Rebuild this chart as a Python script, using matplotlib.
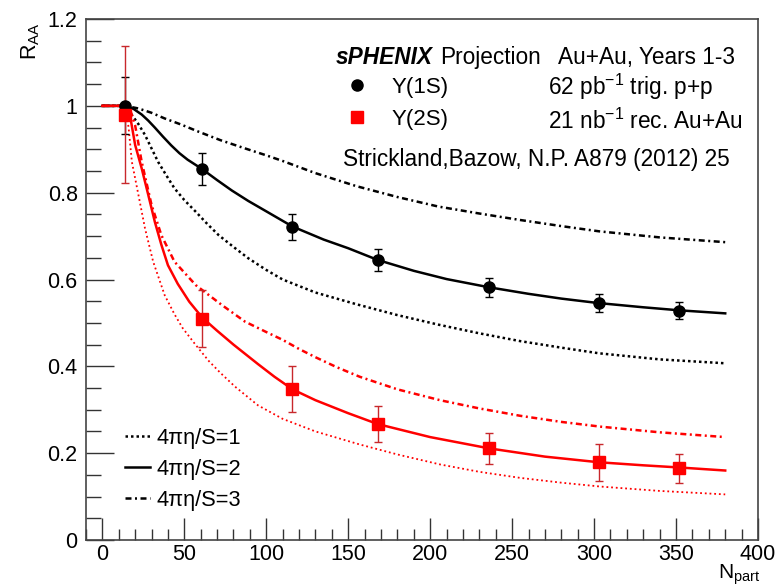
import numpy as np
import matplotlib
matplotlib.use('Agg')
import matplotlib.pyplot as plt
from matplotlib.lines import Line2D
from matplotlib.ticker import MultipleLocator

plt.rcParams['font.family'] = ['Liberation Sans', 'DejaVu Sans']
plt.rcParams['mathtext.default'] = 'regular'

# --- projected points --- #
npart = [14, 61, 116, 168, 236, 303, 352]

raa_1s = [1.0, 0.854, 0.722, 0.645, 0.582, 0.545, 0.528]
err_1s = [0.066, 0.037, 0.030, 0.026, 0.022, 0.021, 0.020]

raa_2s = [0.98, 0.51, 0.347, 0.267, 0.211, 0.179, 0.165]
err_2s = [0.158, 0.065, 0.053, 0.041, 0.035, 0.043, 0.033]

# --- Strickland/Bazow curves --- #
# Y(1S)
x_1s_eta1 = [0, 14, 18, 22, 26, 30, 34, 39, 44, 50, 57, 64, 71, 80, 89, 100, 110, 130,
             155, 180, 205, 230, 255, 280, 303, 340, 380]
y_1s_eta1 = [1.0, 1.0, 0.979, 0.958, 0.933, 0.902, 0.871, 0.84, 0.81, 0.783, 0.756,
             0.728, 0.702, 0.675, 0.649, 0.622, 0.60, 0.57, 0.543, 0.518, 0.496, 0.476,
             0.458, 0.443, 0.430, 0.416, 0.407]

x_1s_eta2 = [0, 14, 19, 24, 28, 32, 37, 42, 47, 52, 61, 70, 79, 89, 100, 116, 135, 150,
             168, 190, 210, 236, 260, 280, 302, 330, 352, 380]
y_1s_eta2 = [1.0, 1.0, 0.993, 0.980, 0.966, 0.950, 0.929, 0.909, 0.891, 0.876, 0.854,
             0.829, 0.805, 0.781, 0.757, 0.722, 0.692, 0.672, 0.645, 0.620, 0.601, 0.582,
             0.567, 0.556, 0.546, 0.536, 0.529, 0.522]

x_1s_eta3 = [0, 14, 22, 30, 38, 48, 59, 72, 87, 100, 110, 130, 155, 180, 205, 230, 255,
             280, 303, 340, 380]
y_1s_eta3 = [1.0, 1.0, 0.994, 0.984, 0.971, 0.957, 0.94, 0.921, 0.902, 0.886, 0.873,
             0.845, 0.815, 0.79, 0.768, 0.752, 0.737, 0.723, 0.711, 0.697, 0.686]

# Y(2S)
x_2s_eta1 = [0, 14, 16, 18, 22, 26, 31, 38, 44, 49, 57, 65, 72, 81, 95, 110, 130, 157,
             180, 206, 230, 255, 280, 304, 340, 380]
y_2s_eta1 = [1.0, 1.0, 0.95, 0.871, 0.795, 0.718, 0.641, 0.564, 0.52, 0.488, 0.449,
             0.412, 0.385, 0.353, 0.31, 0.279, 0.250, 0.220, 0.197, 0.174, 0.157, 0.143,
             0.132, 0.123, 0.113, 0.105]

x_2s_eta2 = [0, 14, 17, 20, 24, 28, 32, 36, 40, 46, 53, 61, 70, 80, 95, 105, 116, 130,
             150, 168, 200, 236, 270, 303, 330, 352, 380]
y_2s_eta2 = [1.0, 1.0, 0.975, 0.91, 0.856, 0.795, 0.733, 0.68, 0.633, 0.59, 0.549, 0.512,
             0.482, 0.45, 0.405, 0.376, 0.347, 0.322, 0.292, 0.267, 0.237, 0.211, 0.192,
             0.179, 0.172, 0.167, 0.160]

x_2s_eta3 = [0, 14, 17, 20, 24, 30, 36, 44, 57, 73, 87, 100, 110, 120, 130, 143, 157, 180,
             206, 230, 255, 280, 304, 340, 380]
y_2s_eta3 = [1.0, 1.0, 0.99, 0.955, 0.871, 0.772, 0.702, 0.641, 0.587, 0.541, 0.503,
             0.479, 0.461, 0.44, 0.421, 0.398, 0.376, 0.347, 0.322, 0.303, 0.286, 0.272,
             0.261, 0.248, 0.237]

red = '#ff0000'
red_err = '#c8282c'

ls_dot = (0, (1.0, 1.2))
ls_dot_fine = (0, (1.0, 1.6))
ls_dashdot = (0, (2.4, 1.4, 0.8, 1.4))

fig = plt.figure(figsize=(7.78, 5.87), dpi=100)
ax = fig.add_axes([0.1105, 0.0801, 0.8638, 0.8875])

# curves
ax.plot(x_1s_eta1, y_1s_eta1, color='black', lw=1.8, ls=ls_dot)
ax.plot(x_1s_eta2, y_1s_eta2, color='black', lw=1.8, ls='-')
ax.plot(x_1s_eta3, y_1s_eta3, color='black', lw=1.8, ls=ls_dashdot)

ax.plot(x_2s_eta1, y_2s_eta1, color=red, lw=1.3, ls=ls_dot_fine)
ax.plot(x_2s_eta2, y_2s_eta2, color=red, lw=1.8, ls='-')
ax.plot(x_2s_eta3, y_2s_eta3, color=red, lw=1.8, ls=ls_dashdot)

# points
ax.errorbar(npart, raa_1s, yerr=err_1s, fmt='o', color='black', ms=8,
            elinewidth=1.0, capsize=3, capthick=1.0, zorder=5)
ax.errorbar(npart, raa_2s, yerr=err_2s, fmt='s', mfc=red, mec=red, ms=8.5,
            ecolor=red_err, elinewidth=1.0, capsize=3, capthick=1.0, zorder=5)

ax.set_xlim(-10, 400)
ax.set_ylim(0, 1.2)

ax.xaxis.set_major_locator(MultipleLocator(50))
ax.xaxis.set_minor_locator(MultipleLocator(10))
ax.yaxis.set_major_locator(MultipleLocator(0.2))
ax.yaxis.set_minor_locator(MultipleLocator(0.05))
ax.yaxis.set_major_formatter(matplotlib.ticker.FuncFormatter(lambda v, p: '%g' % round(v, 2)))

ax.tick_params(which='both', direction='in', top=False, right=False, labelsize=15.5,
               color='#333333', width=1.0)
ax.tick_params(axis='y', which='major', length=20, pad=6)
ax.tick_params(axis='y', which='minor', length=11)
ax.tick_params(axis='x', which='major', length=16, pad=3)
ax.tick_params(axis='x', which='minor', length=8)

for sp in ax.spines.values():
    sp.set_color('#444444')
    sp.set_linewidth(1.2)

fig.text(0.040, 0.962, r'R$_{AA}$', rotation=90, ha='center', va='top', fontsize=15.5)
fig.text(0.977, 0.0, r'N$_{part}$', ha='right', va='bottom', fontsize=15)

# header texts
fs = 16.3
ax.text(0.516, 0.926, 'sPHENIX', transform=ax.transAxes, ha='right', va='center',
        fontsize=fs, fontweight='bold', fontstyle='italic')
ax.text(0.527, 0.926, 'Projection', transform=ax.transAxes, ha='left', va='center',
        fontsize=fs)
ax.text(0.703, 0.926, 'Au+Au, Years 1-3', transform=ax.transAxes, ha='left',
        va='center', fontsize=fs)
ax.text(0.6875, 0.869, r'62 pb$^{-1}$ trig. p+p', transform=ax.transAxes, ha='left',
        va='center', fontsize=fs)
ax.text(0.6875, 0.804, r'21 nb$^{-1}$ rec. Au+Au', transform=ax.transAxes, ha='left',
        va='center', fontsize=fs)
ax.text(0.382, 0.731, 'Strickland,Bazow, N.P. A879 (2012) 25', transform=ax.transAxes,
        ha='left', va='center', fontsize=fs)

# marker legend
h_pts = [Line2D([], [], ls='none', marker='o', color='black', ms=8),
         Line2D([], [], ls='none', marker='s', color=red, ms=8.5)]
leg1 = ax.legend(h_pts, ['\u03a5(1S)', '\u03a5(2S)'], loc='upper left',
                 bbox_to_anchor=(0.388, 0.889), frameon=False, fontsize=16,
                 handlelength=0.9, handletextpad=1.1, labelspacing=0.5,
                 borderpad=0, borderaxespad=0)
ax.add_artist(leg1)

# line-style legend
h_ls = [Line2D([], [], color='black', lw=1.8, ls=ls_dot),
        Line2D([], [], color='black', lw=1.8, ls='-'),
        Line2D([], [], color='black', lw=1.8, ls=ls_dashdot)]
ax.legend(h_ls, ['4\u03c0\u03b7/S=1', '4\u03c0\u03b7/S=2', '4\u03c0\u03b7/S=3'],
          loc='upper left', bbox_to_anchor=(0.058, 0.215), frameon=False, fontsize=15.7,
          handlelength=1.15, handletextpad=0.3, labelspacing=0.45,
          borderpad=0, borderaxespad=0)

plt.savefig('out.png', dpi=100)
